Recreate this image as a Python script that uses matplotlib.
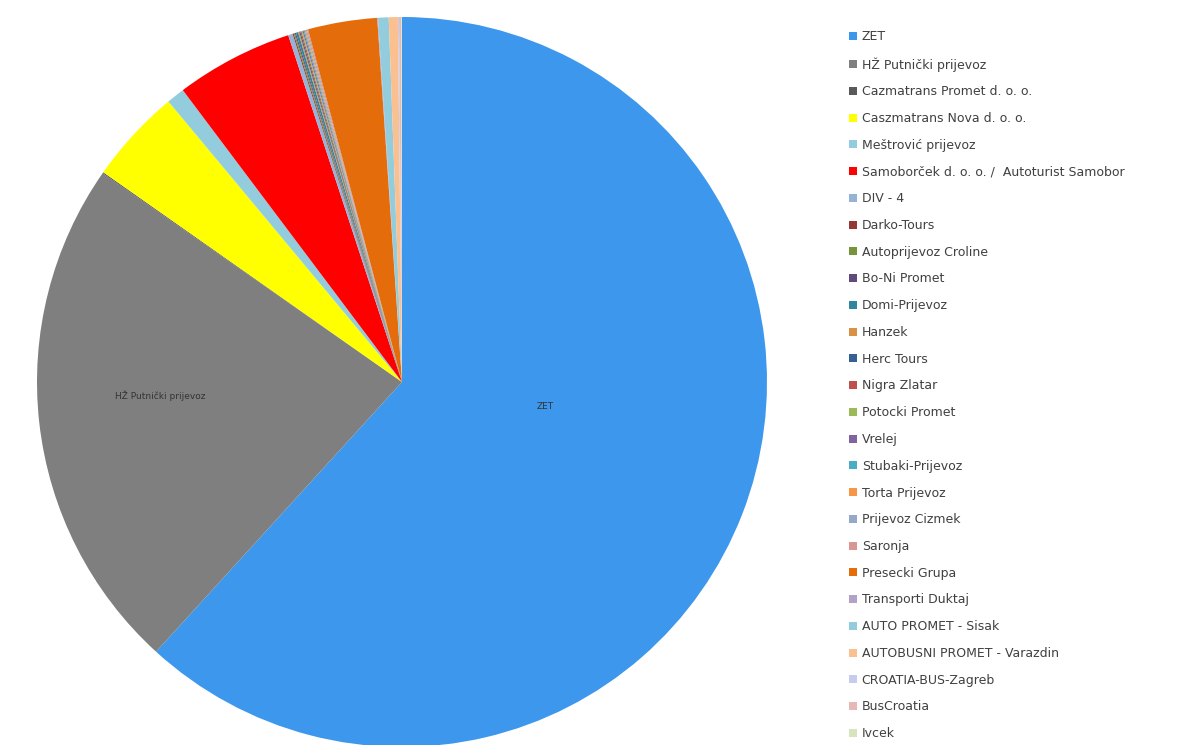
import matplotlib
matplotlib.use("Agg")
import matplotlib.pyplot as plt
from matplotlib.patches import Patch

plt.rcParams['font.family'] = ['DejaVu Sans']

# prijevoznici i udjeli (%)
names = ["ZET", "HŽ Putnički prijevoz", "Cazmatrans Promet d. o. o.",
         "Caszmatrans Nova d. o. o.", "Meštrović prijevoz",
         "Samoborček d. o. o. /  Autoturist Samobor", "DIV - 4", "Darko-Tours",
         "Autoprijevoz Croline", "Bo-Ni Promet", "Domi-Prijevoz", "Hanzek",
         "Herc Tours", "Nigra Zlatar", "Potocki Promet", "Vrelej",
         "Stubaki-Prijevoz", "Torta Prijevoz", "Prijevoz Cizmek", "Saronja",
         "Presecki Grupa", "Transporti Duktaj", "AUTO PROMET - Sisak",
         "AUTOBUSNI PROMET - Varazdin", "CROATIA-BUS-Zagreb", "BusCroatia", "Ivcek"]
shares = [61.7, 22.9, 0.05, 4.2, 0.8, 5.2, 0.2, 0.05, 0.05, 0.05, 0.1, 0.05,
          0.05, 0.05, 0.05, 0.05, 0.05, 0.05, 0.05, 0.05, 3.06, 0.03, 0.47,
          0.4, 0.05, 0.1, 0.03]
colors = ['#3D97EC', '#7F7F7F', '#595959', '#FFFF00', '#93CDDD', '#FF0000',
          '#95B3D7', '#953735', '#77933C', '#604A7B', '#31859C', '#D99146',
          '#376092', '#C0504D', '#9BBB59', '#8064A2', '#4BACC6', '#F79646',
          '#95A8C8', '#D99694', '#E46C0A', '#B3A2C7', '#93CDDD', '#FAC090',
          '#C6CCEB', '#E6B9B8', '#D7E4BD']

fig = plt.figure(figsize=(11.77, 7.45), dpi=100)
ax = fig.add_axes([37/1177, -2/745, 730/1177, 730/745])
wedges, _ = ax.pie(shares, colors=colors, startangle=90, counterclock=False,
                   wedgeprops=dict(linewidth=0))
ax.set_xlim(-1, 1)
ax.set_ylim(-1, 1)
ax.set_aspect('equal')

ax.text(0.392, -0.066, "ZET", fontsize=6.5, color='#333333', ha='center', va='center')
ax.text(-0.663, -0.038, "HŽ Putnički prijevoz", fontsize=6.5, color='#333333',
        ha='center', va='center')

handles = [Patch(facecolor=c, edgecolor='none') for c in colors]
fig.legend(handles, names, loc='upper left', bbox_to_anchor=(838/1177, 1 - 19/745),
           frameon=False, fontsize=9, labelspacing=1.1, handlelength=0.6,
           handleheight=0.6, handletextpad=0.4, labelcolor='#404040')

fig.savefig("out.png", dpi=100)
